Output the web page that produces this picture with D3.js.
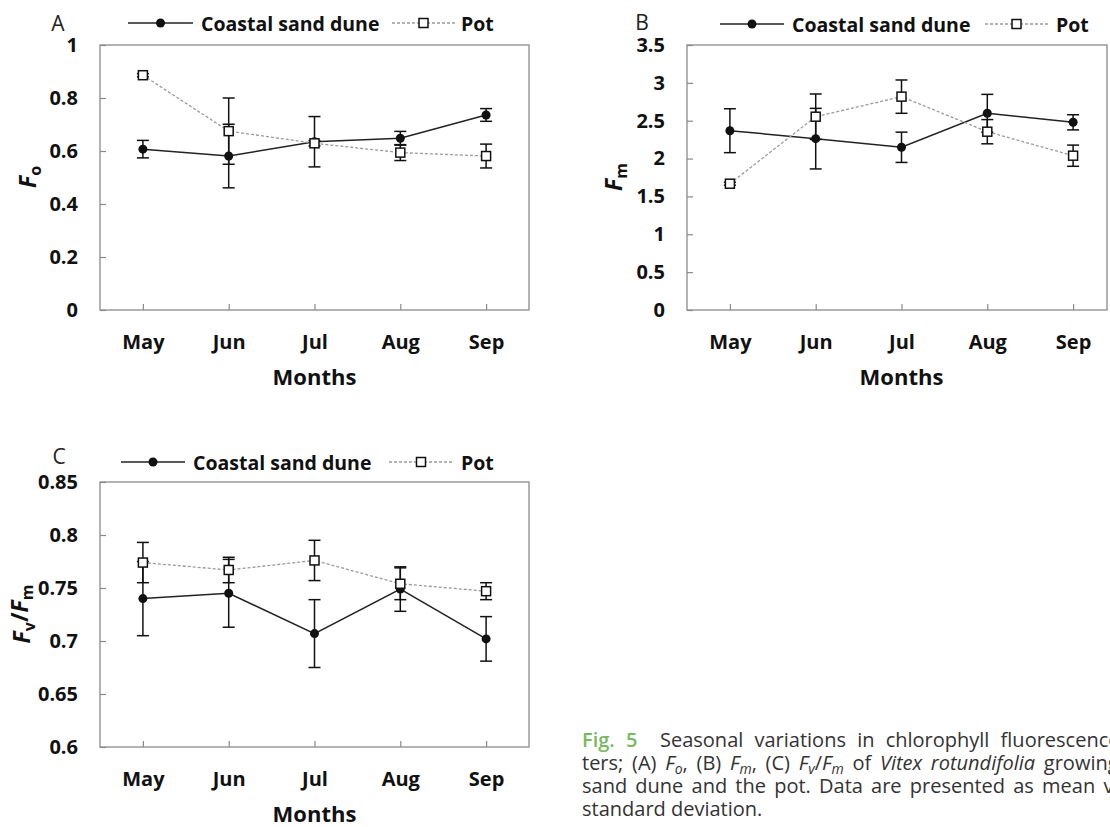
<!DOCTYPE html>
<html>
<head>
<meta charset="utf-8">
<script src="https://cdn.jsdelivr.net/npm/d3@7"></script>
<style>
  body { margin: 0; background: #fff; }
  svg { display: block; font-family: "Open Sans", sans-serif; }
</style>
</head>
<body>
<svg id="fig" width="1110" height="827"></svg>
<script>
let months = ["May", "Jun", "Jul", "Aug", "Sep"]

// Fo
let fo_dune = [0.607, 0.581, 0.635, 0.648, 0.736]
let fo_dune_sd = [0.033, 0.12, 0.095, 0.026, 0.024]
let fo_pot = [0.886, 0.675, 0.629, 0.594, 0.581]
let fo_pot_sd = [0.006, 0.125, 0.01, 0.03, 0.045]
let fo_ticks = [0, 0.2, 0.4, 0.6, 0.8, 1]

// Fm
let fm_dune = [2.368, 2.263, 2.149, 2.598, 2.479]
let fm_dune_sd = [0.29, 0.40, 0.20, 0.25, 0.10]
let fm_pot = [1.668, 2.553, 2.818, 2.355, 2.038]
let fm_pot_sd = [0.02, 0.30, 0.22, 0.16, 0.14]
let fm_ticks = [0, 0.5, 1, 1.5, 2, 2.5, 3, 3.5]

// Fv/Fm
let fv_dune = [0.740, 0.745, 0.707, 0.749, 0.702]
let fv_dune_sd = [0.035, 0.032, 0.032, 0.021, 0.021]
let fv_pot = [0.774, 0.767, 0.776, 0.754, 0.747]
let fv_pot_sd = [0.019, 0.012, 0.019, 0.015, 0.008]
let fv_ticks = [0.6, 0.65, 0.7, 0.75, 0.8, 0.85]

let legend_names = ["Coastal sand dune", "Pot"]

let svg = d3.select("#fig")
let plot_w = 429
let plot_h = 265
let axis_col = "#8a8a8a"
let pot_col = "#9a9a9a"

function draw_panel(p){
    let g = svg.append("g")
    let x = d3.scalePoint().domain(months).range([p.left, p.left + plot_w]).padding(0.5)
    let y = d3.scaleLinear().domain([p.ticks[0], p.ticks[p.ticks.length - 1]]).range([p.top + plot_h, p.top])

    g.append("rect")
        .attr("x", p.left)
        .attr("y", p.top)
        .attr("width", p.box_w)
        .attr("height", plot_h)
        .attr("fill", "none")
        .attr("stroke", axis_col)
        .attr("stroke-width", 1.3)

    let ya = g.append("g")
        .attr("transform", "translate(" + p.left + ",0)")
        .call(d3.axisLeft(y).tickValues(p.ticks).tickSize(-6).tickPadding(22).tickFormat(d => String(d)))
    let xa = g.append("g")
        .attr("transform", "translate(0," + (p.top + plot_h) + ")")
        .call(d3.axisBottom(x).tickSize(-6).tickPadding(25))
    for(let a of [ya, xa]){
        a.select(".domain").remove()
        a.selectAll(".tick line").attr("stroke", axis_col).attr("stroke-width", 1.2)
        a.selectAll(".tick text")
            .attr("fill", "#111")
            .attr("font-size", 20)
            .attr("font-weight", "bold")
            .attr("font-family", "Open Sans")
    }

    // panel letter
    g.append("text")
        .attr("x", p.letter[0]).attr("y", p.letter[1])
        .attr("text-anchor", "middle")
        .attr("dominant-baseline", "central")
        .attr("font-size", 21)
        .attr("fill", "#222")
        .text(p.name)

    // x title
    g.append("text")
        .attr("x", p.left + plot_w / 2)
        .attr("y", p.top + plot_h + 75)
        .attr("text-anchor", "middle")
        .attr("font-size", 22)
        .attr("font-weight", "bold")
        .attr("fill", "#111")
        .text("Months")

    // y title
    let yt = g.append("text")
        .attr("transform", "translate(" + p.ytitle[0] + "," + p.ytitle[1] + ") rotate(-90)")
        .attr("text-anchor", "middle")
        .attr("font-size", 23)
        .attr("font-weight", "bold")
        .attr("fill", "#111")
    for(let part of p.ylabel){
        let t = yt.append("tspan").text(part[0])
        if(part[1] == "F") t.attr("font-style", "italic")
        if(part[1] == "sub") t.attr("font-size", 16).attr("dy", "0.3em")
        if(part[1] == "up") t.attr("dy", "-0.3em")
    }

    let line = d3.line().x(d => x(d.m)).y(d => y(d.v))

    function add_series(vals, sds, solid){
        let data = vals.map((v, i) => ({m: months[i], v: v, sd: sds[i]}))
        g.append("path")
            .datum(data)
            .attr("fill", "none")
            .attr("stroke", solid ? "#222" : pot_col)
            .attr("stroke-width", solid ? 1.5 : 1.3)
            .attr("stroke-dasharray", solid ? null : "3,2")
            .attr("d", line)

        let eb = g.append("g").attr("stroke", "#111").attr("stroke-width", 1.5)
        eb.selectAll(".bar").data(data).enter().append("line")
            .attr("x1", d => x(d.m)).attr("x2", d => x(d.m))
            .attr("y1", d => y(d.v - d.sd)).attr("y2", d => y(d.v + d.sd))
        eb.selectAll(".top").data(data).enter().append("line")
            .attr("x1", d => x(d.m) - 6).attr("x2", d => x(d.m) + 6)
            .attr("y1", d => y(d.v + d.sd)).attr("y2", d => y(d.v + d.sd))
        eb.selectAll(".bot").data(data).enter().append("line")
            .attr("x1", d => x(d.m) - 6).attr("x2", d => x(d.m) + 6)
            .attr("y1", d => y(d.v - d.sd)).attr("y2", d => y(d.v - d.sd))

        if(solid){
            g.append("g").selectAll("circle").data(data).enter().append("circle")
                .attr("cx", d => x(d.m)).attr("cy", d => y(d.v))
                .attr("r", 4.5).attr("fill", "#111")
        } else {
            g.append("g").selectAll("rect").data(data).enter().append("rect")
                .attr("x", d => x(d.m) - 4.5).attr("y", d => y(d.v) - 4.5)
                .attr("width", 9).attr("height", 9)
                .attr("fill", "#fff").attr("stroke", "#111").attr("stroke-width", 1.5)
        }
    }
    add_series(p.dune, p.dune_sd, true)
    add_series(p.pot, p.pot_sd, false)

    // legend
    let ly = p.legend[0]
    let lx = p.legend[1]
    g.append("line").attr("x1", lx[0]).attr("x2", lx[1]).attr("y1", ly).attr("y2", ly)
        .attr("stroke", "#222").attr("stroke-width", 1.5)
    g.append("circle").attr("cx", (lx[0] + lx[1]) / 2).attr("cy", ly).attr("r", 4.5).attr("fill", "#111")
    g.append("line").attr("x1", lx[3]).attr("x2", lx[4]).attr("y1", ly).attr("y2", ly)
        .attr("stroke", pot_col).attr("stroke-width", 1.3).attr("stroke-dasharray", "3,2")
    g.append("rect").attr("x", (lx[3] + lx[4]) / 2 - 4.5).attr("y", ly - 4.5).attr("width", 9).attr("height", 9)
        .attr("fill", "#fff").attr("stroke", "#111").attr("stroke-width", 1.5)
    for(let [k, tx] of [[0, lx[2]], [1, lx[5]]]){
        g.append("text")
            .attr("x", tx).attr("y", ly)
            .attr("dominant-baseline", "central")
            .attr("font-size", 19.5)
            .attr("font-weight", "bold")
            .attr("fill", "#111")
            .text(legend_names[k])
    }
}

draw_panel({
    name: "A", left: 100, top: 45, box_w: 429, ticks: fo_ticks,
    dune: fo_dune, dune_sd: fo_dune_sd, pot: fo_pot, pot_sd: fo_pot_sd,
    letter: [58, 23], ytitle: [36, 177],
    ylabel: [["F", "F"], ["o", "sub"]],
    legend: [23, [128, 193, 201, 392, 455, 461]]
})
draw_panel({
    name: "B", left: 687, top: 45, box_w: 420, ticks: fm_ticks,
    dune: fm_dune, dune_sd: fm_dune_sd, pot: fm_pot, pot_sd: fm_pot_sd,
    letter: [642, 22], ytitle: [622, 177],
    ylabel: [["F", "F"], ["m", "sub"]],
    legend: [24, [720, 784, 792, 985, 1048, 1056]]
})
draw_panel({
    name: "C", left: 100, top: 482, box_w: 429, ticks: fv_ticks,
    dune: fv_dune, dune_sd: fv_dune_sd, pot: fv_pot, pot_sd: fv_pot_sd,
    letter: [59, 456], ytitle: [30, 614],
    ylabel: [["F", "F"], ["v", "sub"], ["/", "up"], ["F", "F"], ["m", "sub"]],
    legend: [462, [121, 185, 193, 389, 453, 461]]
})

// caption (runs past the right edge, as in the source page)
let caption = [
    [["Fig. 5", "fig"], ["Seasonal variations in chlorophyll fluorescence parame-", "x660"]],
    [["ters; (A) ", ""], ["F", "i"], ["o", "s"], [", (B) ", ""], ["F", "i"], ["m", "s"], [", (C) ", ""],
     ["F", "i"], ["v", "s"], ["/", ""], ["F", "i"], ["m", "s"], [" of ", ""], ["Vitex rotundifolia", "i"], [" growing in coastal", ""]],
    [["sand dune and the pot. Data are presented as mean values \u00b1", ""]],
    [["standard deviation.", ""]]
]
let cap_y = [747, 770, 793, 816]
let cap_ws = [6, 3.5, 3, 0]

caption.forEach((segs, i) => {
    let t = svg.append("text")
        .attr("x", 582).attr("y", cap_y[i])
        .attr("font-size", 20)
        .attr("fill", "#333")
        .attr("word-spacing", cap_ws[i])
        .attr("xml:space", "preserve")
    let sub = false
    for(let s of segs){
        let ts = t.append("tspan").text(s[0])
        if(s[1] == "fig") ts.attr("fill", "#78b862").attr("font-weight", 600)
        if(s[1] == "x660") ts.attr("x", 660)
        if(s[1] == "i") ts.attr("font-style", "italic")
        if(s[1] == "s"){
            ts.attr("font-style", "italic").attr("font-size", 14).attr("dy", 4)
            sub = true
        } else if(sub){
            ts.attr("dy", -4)
            sub = false
        }
    }
})
</script>
</body>
</html>
